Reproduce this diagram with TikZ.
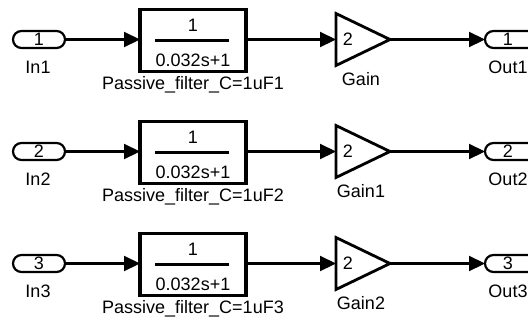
\documentclass[tikz,border=0pt]{standalone}
\usepackage{fontspec}
\setmainfont{Liberation Sans}
\usetikzlibrary{shapes.geometric,arrows.meta}
\begin{document}
\begin{tikzpicture}[x=1pt,y=-1pt,
  every node/.style={font=\fontsize{18}{20}\selectfont, inner sep=0pt, outer sep=0pt},
  port/.style={draw, line width=2.2pt, rounded corners=8.5pt, minimum width=52pt, minimum height=17pt},
  tfbox/.style={draw, line width=3.5pt, minimum width=106pt, minimum height=62pt},
  gaintri/.style={draw, line width=2.8pt, isosceles triangle, isosceles triangle stretches, minimum width=52pt, minimum height=54pt, anchor=west},
  wire/.style={line width=2.2pt, -{Triangle[length=16pt,width=15pt]}},
  fracline/.style={line width=2.8pt}
]
\useasboundingbox (0,0) rectangle (528,322);
\clip (0,0) rectangle (528,322);
\foreach \i/\y/\g in {1/39.5/Gain, 2/151.5/Gain1, 3/263.5/Gain2}{
  \node[port] (in\i) at (39,\y) {\i};
  \node (inl\i) at (38,\y+28) {In\i};
  \node[tfbox] (tf\i) at (193,\y+1) {};
  \node (num\i) at (193,\y-14) {1};
  \coordinate (fl\i) at (155,\y+1);
  \coordinate (fr\i) at (229,\y+1);
  \draw[fracline] (fl\i) -- (fr\i);
  \node (den\i) at (193,\y+21) {0.032s+1};
  \node (tfl\i) at (193,\y+45) {Passive\_filter\_C=1uF\i};
  \node[gaintri] (g\i) at (336,\y) {};
  \node (gk\i) at (348,\y) {2};
  \node (gl\i) at (361,\y+40) {\g};
  \node[port] (out\i) at (511,\y) {};
  \node (outn\i) at (508,\y) {\i};
  \node (outl\i) at (508,\y+28) {Out\i};
  \draw[wire] (in\i.east) -- (in\i.east -| tf\i.west);
  \draw[wire] (tf\i.east |- g\i.west) -- (g\i.west);
  \draw[wire] (g\i.east) -- (g\i.east -| out\i.west);
}
\end{tikzpicture}
\end{document}
